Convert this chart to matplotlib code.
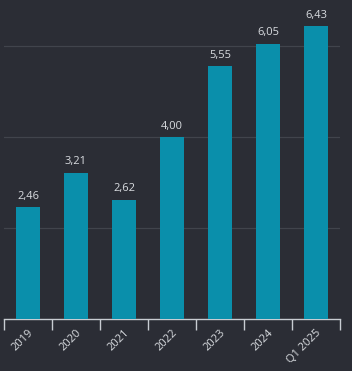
import matplotlib.pyplot as plt
import numpy as np

categories = ['2019', '2020', '2021', '2022', '2023', '2024', 'Q1 2025']
values = [2.46, 3.21, 2.62, 4.00, 5.55, 6.05, 6.43]

bg = '#2b2d35'
bar_color = '#0a8fab'
text_color = '#d9dce0'

fig = plt.figure(figsize=(3.52, 3.71), dpi=100, facecolor=bg)
ax = fig.add_axes([4 / 352, 52 / 371, 336 / 352, 319 / 371])
ax.set_facecolor(bg)

x = np.arange(len(categories))
ax.bar(x, values, width=0.52, color=bar_color, zorder=3)

for xi, v in zip(x, values):
    ax.text(xi, v + 0.12, f'{v:.2f}'.replace('.', ','), ha='center', va='bottom',
            color=text_color, fontsize=8, family='Open Sans')

ax.set_xlim(-0.5, len(categories) - 0.5)
ax.set_ylim(0, 7.01)
ax.set_yticks([2, 4, 6])
ax.yaxis.grid(True, color='#41444c', linewidth=0.9)
ax.tick_params(axis='y', left=False, labelleft=False)

ax.set_xticks(x)
ax.set_xticklabels(categories, rotation=45, ha='right', rotation_mode='anchor',
                   color=text_color, fontsize=8, family='Open Sans')
ax.tick_params(axis='x', which='major', length=0, pad=6)
ax.set_xticks(np.arange(-0.5, len(categories)), minor=True)
ax.tick_params(axis='x', which='minor', length=8, color='#c8ccd2', width=1)

for s in ['top', 'right', 'left']:
    ax.spines[s].set_visible(False)
ax.spines['bottom'].set_color('#c8ccd2')
ax.spines['bottom'].set_linewidth(1)

fig.savefig('out.png', dpi=100, facecolor=bg)
